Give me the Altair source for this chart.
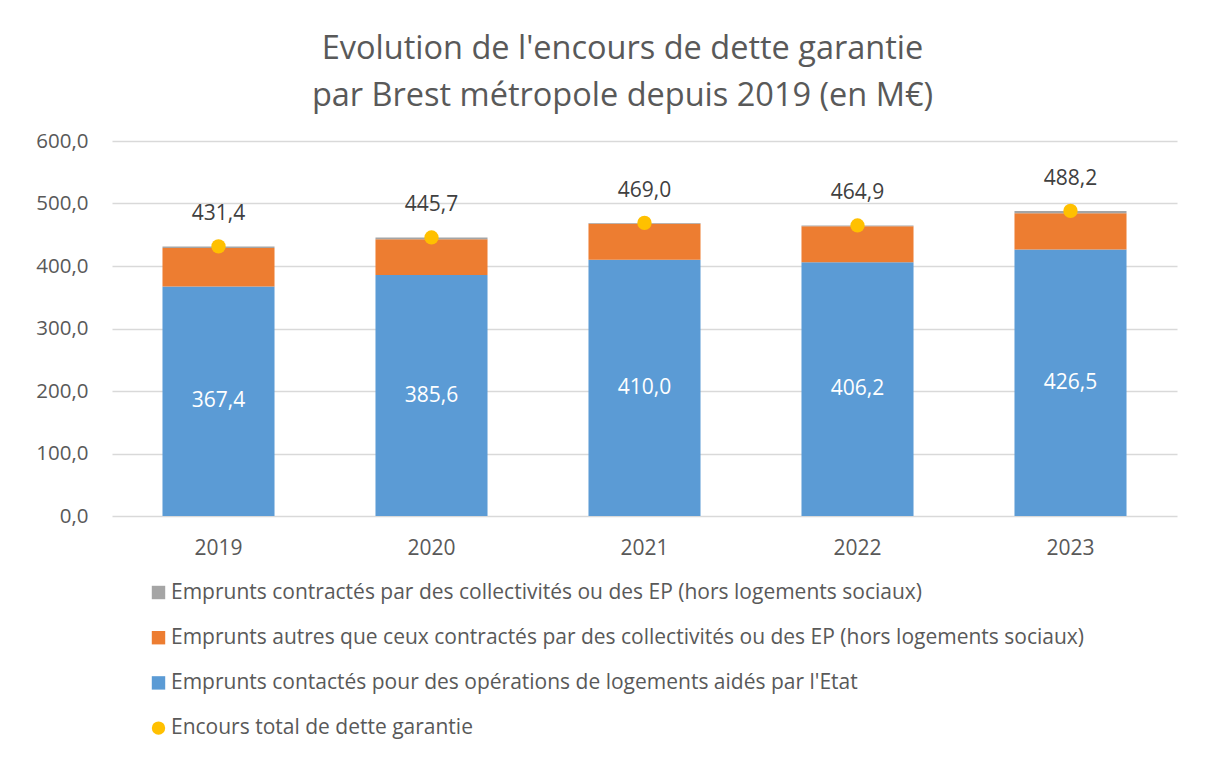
import altair as alt
import pandas as pd

years = ["2019", "2020", "2021", "2022", "2023"]
blue_vals = [367.4, 385.6, 410.0, 406.2, 426.5]
orange_vals = [61.6, 57.2, 57.7, 57.3, 57.9]
grey_vals = [2.4, 2.9, 1.3, 1.4, 3.8]
total_vals = [431.4, 445.7, 469.0, 464.9, 488.2]

s_grey = "Emprunts contractés par des collectivités ou des EP (hors logements sociaux)"
s_orange = "Emprunts autres que ceux contractés par des collectivités ou des EP (hors logements sociaux)"
s_blue = "Emprunts contactés pour des opérations de logements aidés par l'Etat"
s_total = "Encours total de dette garantie"

series_names = [s_grey, s_orange, s_blue, s_total]
series_colors = ["#A5A5A5", "#ED7D31", "#5B9BD5", "#FFC000"]
series_shapes = ["square", "square", "square", "circle"]

TEXT = "#595959"
FONT = "Open Sans"

rows = []
for i, y in enumerate(years):
    rows.append({"year": y, "series": s_blue, "value": blue_vals[i], "ord": 0})
    rows.append({"year": y, "series": s_orange, "value": orange_vals[i], "ord": 1})
    rows.append({"year": y, "series": s_grey, "value": grey_vals[i], "ord": 2})
seg = pd.DataFrame(rows)

tot = pd.DataFrame({"year": years, "total": total_vals, "blue": blue_vals,
                    "series": [s_total] * len(years)})

leg = alt.Legend(title=None, orient="none", direction="vertical",
                 legendX=36, legendY=441)

x_enc = alt.X("year:N", title=None, sort=years,
              scale=alt.Scale(paddingInner=0.474, paddingOuter=0.237),
              axis=alt.Axis(labelAngle=0, ticks=False, domain=False, grid=False,
                            labelPadding=21, labelFontSize=21, labelColor=TEXT,
                            labelFont=FONT))

bars = alt.Chart(seg).mark_bar().encode(
    x=x_enc,
    y=alt.Y("value:Q", stack="zero", title=None,
            scale=alt.Scale(domain=[0, 600], nice=False),
            axis=alt.Axis(values=[0, 100, 200, 300, 400, 500, 600],
                          labelExpr="replace(format(datum.value, '.1f'), '.', ',')",
                          ticks=False, domain=False, gridColor="#D9D9D9",
                          gridWidth=1.3, labelPadding=24, labelFontSize=20.5,
                          labelColor=TEXT, labelFont=FONT)),
    color=alt.Color("series:N",
                    scale=alt.Scale(domain=series_names, range=series_colors),
                    legend=leg),
    order=alt.Order("ord:Q"),
)

points = alt.Chart(tot).mark_point(filled=True, size=205, opacity=1).encode(
    x=alt.X("year:N", sort=years),
    y=alt.Y("total:Q"),
    color=alt.Color("series:N",
                    scale=alt.Scale(domain=series_names, range=series_colors),
                    legend=leg),
    shape=alt.Shape("series:N",
                    scale=alt.Scale(domain=series_names, range=series_shapes),
                    legend=leg),
)

total_text = alt.Chart(tot).transform_calculate(
    lab="replace(format(datum.total, '.1f'), '.', ',')"
).mark_text(dy=-32, fontSize=21, color="#404040", font=FONT).encode(
    x=alt.X("year:N", sort=years),
    y=alt.Y("total:Q"),
    text="lab:N",
)

blue_text = alt.Chart(tot).transform_calculate(
    lab="replace(format(datum.blue, '.1f'), '.', ',')",
    mid="datum.blue / 2"
).mark_text(fontSize=21, color="white", font=FONT, baseline="middle").encode(
    x=alt.X("year:N", sort=years),
    y=alt.Y("mid:Q"),
    text="lab:N",
)

chart = alt.layer(bars, points, total_text, blue_text).resolve_scale(
    color="shared", shape="shared"
).properties(
    width=1065, height=375,
    autosize=alt.AutoSizeParams(type="none"),
    padding={"left": 104, "top": 133, "right": 24, "bottom": 228},
    title=alt.TitleParams(
        text=["Evolution de l'encours de dette garantie",
              "par Brest métropole depuis 2019 (en M€)"],
        fontSize=32.5, font=FONT, fontWeight="normal", color=TEXT,
        anchor="middle", dx=-22, offset=19, lineHeight=47, frame="group",
    ),
).configure_view(stroke=None).configure_legend(
    labelFontSize=21, labelColor=TEXT, labelFont=FONT, symbolSize=180,
    rowPadding=23.2, labelOffset=2, symbolStrokeWidth=0, labelLimit=2000,
    symbolOpacity=1,
)

chart.save("out.html", embed_options={"renderer": "svg", "actions": False})
